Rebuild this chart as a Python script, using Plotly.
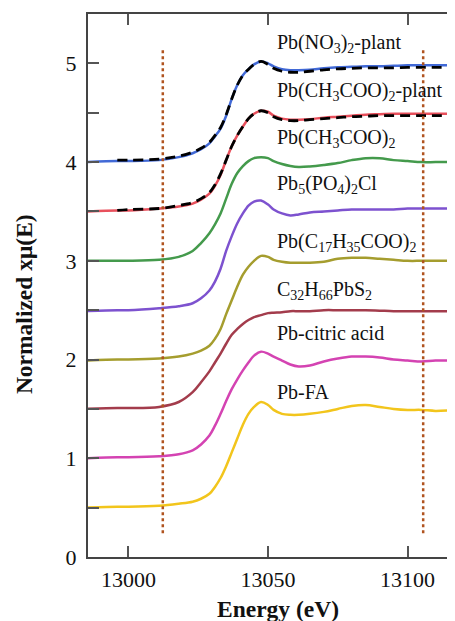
import plotly.graph_objects as go

# Energy grid (eV)
energy = [12985, 12996, 13000, 13011, 13018, 13023, 13026, 13029, 13031, 13033, 13035,
          13037, 13039, 13041, 13043, 13045, 13047.5, 13050, 13052, 13055, 13058, 13061,
          13065, 13070, 13075, 13080, 13085, 13090, 13095, 13100, 13105, 13110, 13117]

names = ["Pb(NO<sub>3</sub>)<sub>2</sub>-plant",
         "Pb(CH<sub>3</sub>COO)<sub>2</sub>-plant",
         "Pb(CH<sub>3</sub>COO)<sub>2</sub>",
         "Pb<sub>5</sub>(PO<sub>4</sub>)<sub>2</sub>Cl",
         "Pb(C<sub>17</sub>H<sub>35</sub>COO)<sub>2</sub>",
         "C<sub>32</sub>H<sub>66</sub>PbS<sub>2</sub>",
         "Pb-citric acid",
         "Pb-FA"]
offsets = [4.0, 3.5, 3.0, 2.5, 2.0, 1.5, 1.0, 0.5]
label_y = [5.2, 4.72, 4.24, 3.77, 3.19, 2.70, 2.27, 1.67]
label_x = 13052.5
colors = ["#4169d6", "#e8505c", "#449a4c", "#7d52cf", "#a59d2e", "#a33c4c", "#d443b2", "#f2c51c"]

x_tick_vals = [13000, 13050, 13100]
x_tick_text = ["13000", "13050", "13100"]
y_tick_vals = [0, 1, 2, 3, 4, 5]

pb_no3_plant = [0.00, 0.01, 0.01, 0.02, 0.05, 0.09, 0.13, 0.19, 0.26, 0.34, 0.47, 0.64, 0.78, 0.88, 0.94, 0.99, 1.02,
                1.00, 0.97, 0.94, 0.93, 0.93, 0.935, 0.95, 0.96, 0.965, 0.97, 0.97, 0.975, 0.98, 0.98, 0.98, 0.98]
pb_ac_plant = [0.00, 0.01, 0.01, 0.03, 0.05, 0.08, 0.12, 0.18, 0.26, 0.37, 0.52, 0.66, 0.77, 0.86, 0.94, 0.99, 1.02,
               1.01, 0.97, 0.94, 0.93, 0.93, 0.935, 0.95, 0.96, 0.97, 0.98, 0.985, 0.99, 0.99, 0.99, 0.99, 0.99]
pb_ac = [0.00, 0.00, 0.00, 0.01, 0.04, 0.10, 0.18, 0.28, 0.37, 0.48, 0.63, 0.78, 0.89, 0.96, 1.01, 1.04, 1.05,
         1.04, 1.01, 0.98, 0.96, 0.95, 0.955, 0.97, 0.99, 1.02, 1.04, 1.04, 1.02, 1.01, 1.00, 1.00, 1.00]
pyromorphite = [-0.01, 0.00, 0.00, 0.02, 0.04, 0.07, 0.12, 0.20, 0.29, 0.42, 0.60, 0.75, 0.88, 0.98, 1.06, 1.10, 1.11,
                1.07, 1.02, 0.98, 0.96, 0.97, 0.99, 1.00, 1.01, 1.02, 1.02, 1.02, 1.02, 1.03, 1.03, 1.03, 1.03]
pb_stearate = [-0.01, 0.00, 0.00, 0.01, 0.03, 0.06, 0.09, 0.14, 0.21, 0.31, 0.46, 0.60, 0.74, 0.86, 0.94, 1.00, 1.05,
               1.04, 1.01, 0.99, 0.98, 0.98, 0.98, 0.99, 1.02, 1.03, 1.03, 1.02, 1.01, 1.00, 1.00, 1.00, 1.00]
pb_thiol = [0.00, 0.01, 0.01, 0.02, 0.07, 0.17, 0.27, 0.38, 0.47, 0.56, 0.66, 0.75, 0.81, 0.86, 0.90, 0.93, 0.95,
            0.97, 0.975, 0.98, 0.99, 0.99, 0.99, 1.00, 1.00, 1.00, 1.00, 0.995, 0.99, 0.99, 0.99, 0.99, 0.99]
pb_citric = [0.00, 0.01, 0.01, 0.02, 0.04, 0.08, 0.14, 0.23, 0.33, 0.45, 0.58, 0.70, 0.80, 0.89, 0.97, 1.04, 1.08,
             1.06, 1.03, 0.99, 0.95, 0.93, 0.94, 0.98, 1.01, 1.03, 1.03, 1.02, 1.00, 0.99, 0.98, 0.99, 0.99]
pb_fa = [0.00, 0.01, 0.01, 0.02, 0.04, 0.06, 0.09, 0.14, 0.21, 0.30, 0.42, 0.56, 0.70, 0.84, 0.95, 1.02, 1.07,
         1.04, 0.99, 0.95, 0.94, 0.94, 0.95, 0.97, 1.00, 1.03, 1.04, 1.02, 1.00, 0.99, 0.99, 0.98, 0.99]
spectra = [pb_no3_plant, pb_ac_plant, pb_ac, pyromorphite, pb_stearate, pb_thiol, pb_citric, pb_fa]

# linear-combination fits (black dashed) for the two plant samples
fit_no3_plant = [None, 0.02, 0.02, 0.03, 0.06, 0.10, 0.14, 0.20, 0.27, 0.35, 0.48, 0.64, 0.78, 0.88, 0.94, 0.99, 1.02,
                 0.99, 0.95, 0.92, 0.91, 0.91, 0.92, 0.935, 0.945, 0.95, 0.955, 0.955, 0.955, 0.96, 0.96, 0.96, 0.96]
fit_ac_plant = [None, 0.01, 0.02, 0.03, 0.06, 0.09, 0.13, 0.19, 0.27, 0.38, 0.52, 0.66, 0.77, 0.86, 0.94, 0.99, 1.02,
                1.00, 0.96, 0.93, 0.92, 0.92, 0.93, 0.94, 0.95, 0.96, 0.965, 0.97, 0.97, 0.97, 0.97, 0.97, 0.97]
fits = [(fit_no3_plant, 4.0), (fit_ac_plant, 3.5)]

# fitting range markers
vline_x = [13012.3, 13105.6]
vline_y = [0.24, 5.15]

SERIF = "Liberation Serif, Times New Roman, serif"

fig = go.Figure()
for vals, off, col in zip(spectra, offsets, colors):
    fig.add_trace(go.Scatter(x=energy, y=[v + off for v in vals], mode="lines",
                             line=dict(color=col, width=2.5, shape="spline", smoothing=1.0),
                             hoverinfo="skip"))
for vals, off in fits:
    fig.add_trace(go.Scatter(x=energy, y=[None if v is None else v + off for v in vals], mode="lines",
                             line=dict(color="black", width=2.8, dash="10px,6px", shape="spline", smoothing=1.0),
                             hoverinfo="skip"))
for vx in vline_x:
    fig.add_trace(go.Scatter(x=[vx, vx], y=vline_y, mode="lines",
                             line=dict(color="#b0531f", width=2.5, dash="dot"), hoverinfo="skip"))

for name, ly in zip(names, label_y):
    fig.add_annotation(x=label_x, y=ly, text=name, showarrow=False, xanchor="left", yanchor="middle",
                       font=dict(family=SERIF, size=20, color="#111"))

fig.add_annotation(xref="paper", yref="paper", x=0.518, y=-0.095, text="<b>Energy (eV)</b>",
                   showarrow=False, xanchor="center", yanchor="middle",
                   font=dict(family=SERIF, size=23.5, color="#111"))
fig.add_annotation(xref="paper", yref="paper", x=-0.174, y=0.466, text="<b>Normalized xμ(E)</b>",
                   showarrow=False, xanchor="center", yanchor="middle", textangle=-90,
                   font=dict(family=SERIF, size=23.5, color="#111"))

# the page body keeps its default 8px margin, so the figure is 8px smaller than the window
fig.update_layout(
    width=447, height=613,
    margin=dict(l=80, r=0, t=6, b=64, autoexpand=False),
    paper_bgcolor="white", plot_bgcolor="white",
    showlegend=False,
    xaxis=dict(range=[12985.5, 13117], tickvals=x_tick_vals, ticktext=x_tick_text, ticks="inside",
               ticklen=11, tickwidth=2, tickcolor="#555", showline=True, linecolor="#444", linewidth=2,
               mirror="ticks", showgrid=False, zeroline=False, automargin=False, ticklabelstandoff=2,
               tickfont=dict(family=SERIF, size=22, color="#111")),
    yaxis=dict(range=[0, 5.5], tickvals=y_tick_vals, ticks="inside", ticklen=11, tickwidth=2,
               tickcolor="#555", showline=True, linecolor="#444", linewidth=2, mirror=False,
               showgrid=False, zeroline=False, automargin=False, ticklabelstandoff=5,
               minor=dict(dtick=0.5, ticks="inside", ticklen=11, tickwidth=2, tickcolor="#555", showgrid=False),
               tickfont=dict(family=SERIF, size=22, color="#111")),
)

fig.write_html("out.html")
